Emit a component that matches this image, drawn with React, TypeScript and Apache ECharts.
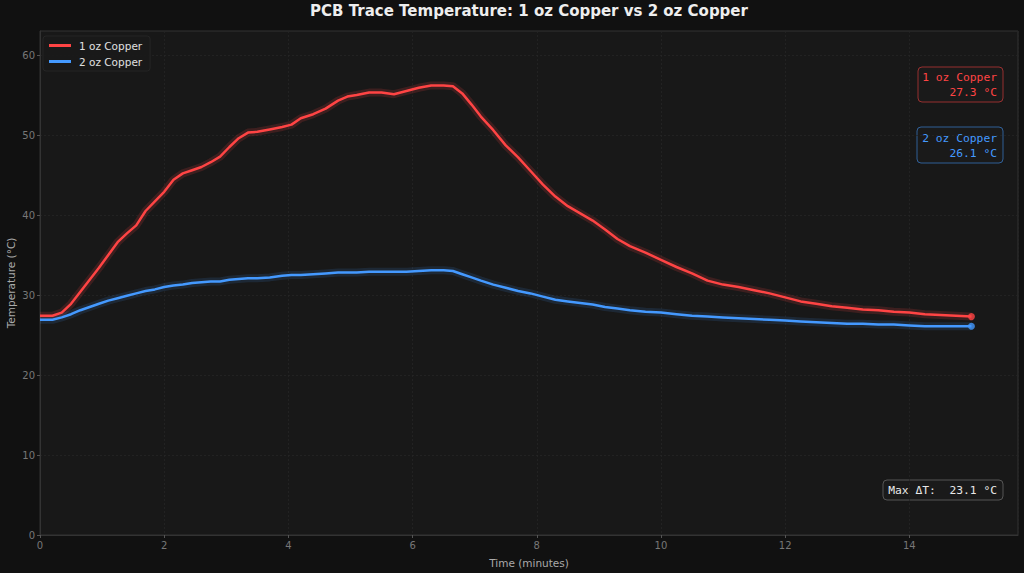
import React, { useEffect, useRef } from "react";
import * as echarts from "echarts";

const TITLE = "PCB Trace Temperature: 1 oz Copper vs 2 oz Copper";
const X_NAME = "Time (minutes)";
const Y_NAME = "Temperature (°C)";
const NAME_1OZ = "1 oz Copper";
const NAME_2OZ = "2 oz Copper";

const times = [
  0, 0.2, 0.35, 0.5, 0.65, 0.8, 0.95, 1.1, 1.25, 1.4, 1.55, 1.7, 1.85, 2.0,
  2.15, 2.3, 2.45, 2.6, 2.75, 2.9, 3.05, 3.2, 3.35, 3.5, 3.7, 3.9, 4.05, 4.2,
  4.4, 4.6, 4.8, 4.95, 5.1, 5.3, 5.5, 5.7, 5.9, 6.1, 6.3, 6.5, 6.65, 6.8, 6.95,
  7.1, 7.3, 7.5, 7.7, 7.9, 8.1, 8.3, 8.5, 8.7, 8.9, 9.1, 9.3, 9.5, 9.75, 10.0,
  10.25, 10.5, 10.75, 11.0, 11.25, 11.5, 11.75, 12.0, 12.25, 12.5, 12.75, 13.0,
  13.25, 13.5, 13.75, 14.0, 14.25, 14.5, 14.75, 15.0,
];

const temp1oz = [
  27.4, 27.4, 27.8, 28.9, 30.4, 31.9, 33.4, 35.0, 36.6, 37.7, 38.7, 40.5, 41.7,
  42.9, 44.4, 45.2, 45.6, 46.0, 46.6, 47.3, 48.5, 49.6, 50.3, 50.4, 50.7, 51.0,
  51.3, 52.1, 52.6, 53.3, 54.3, 54.8, 55.0, 55.3, 55.3, 55.1, 55.5, 55.9, 56.2,
  56.2, 56.1, 55.2, 53.8, 52.3, 50.6, 48.7, 47.2, 45.5, 43.8, 42.3, 41.1, 40.2,
  39.3, 38.2, 37.0, 36.1, 35.3, 34.4, 33.5, 32.7, 31.8, 31.3, 31.0, 30.6, 30.2,
  29.7, 29.2, 28.9, 28.6, 28.4, 28.2, 28.1, 27.9, 27.8, 27.6, 27.5, 27.4, 27.3,
];

const temp2oz = [
  26.9, 26.9, 27.2, 27.6, 28.1, 28.5, 28.9, 29.3, 29.6, 29.9, 30.2, 30.5, 30.7,
  31.0, 31.2, 31.3, 31.5, 31.6, 31.7, 31.7, 31.9, 32.0, 32.1, 32.1, 32.2, 32.4,
  32.5, 32.5, 32.6, 32.7, 32.8, 32.8, 32.8, 32.9, 32.9, 32.9, 32.9, 33.0, 33.1,
  33.1, 33.0, 32.6, 32.2, 31.8, 31.3, 30.9, 30.5, 30.2, 29.8, 29.4, 29.2, 29.0,
  28.8, 28.5, 28.3, 28.1, 27.9, 27.8, 27.6, 27.4, 27.3, 27.2, 27.1, 27.0, 26.9,
  26.8, 26.7, 26.6, 26.5, 26.4, 26.4, 26.3, 26.3, 26.2, 26.1, 26.1, 26.1, 26.1,
];

const X_MIN = 0;
const X_MAX = 15.75;
const X_STEP = 2;
const Y_MIN = 0;
const Y_MAX = 63;
const Y_STEP = 10;

const RED = "#ff4444";
const BLUE = "#4499ff";
const MONO = "'DejaVu Sans Mono', 'Liberation Mono', monospace";
const SANS = "'DejaVu Sans', 'Noto Sans', sans-serif";

export default function App() {
  const ref = useRef<HTMLDivElement | null>(null);

  useEffect(() => {
    document.body.style.margin = "0";
    document.body.style.background = "#111111";
    if (!ref.current) return;
    const chart = echarts.init(ref.current, undefined, { renderer: "svg" });

    const d1 = times.map((t, i) => [t, temp1oz[i]]);
    const d2 = times.map((t, i) => [t, temp2oz[i]]);
    const last = times.length - 1;
    const final1 = temp1oz[last];
    const final2 = temp2oz[last];
    let maxDelta = 0;
    temp1oz.forEach((v, i) => {
      const d = v - temp2oz[i];
      if (d > maxDelta) maxDelta = d;
    });

    const boxText = (
      x: number,
      y: number,
      w: number,
      h: number,
      text: string,
      color: string,
      border: string
    ) => ({
      type: "group",
      x,
      y,
      children: [
        {
          type: "rect",
          shape: { x: 0, y: 0, width: w, height: h, r: 4 },
          style: { fill: "#1a1a1a", stroke: border, lineWidth: 1 },
        },
        {
          type: "text",
          x: w - 6,
          y: h / 2 + 0.5,
          style: {
            text,
            fill: color,
            font: `11.3px ${MONO}`,
            align: "right",
            verticalAlign: "middle",
            lineHeight: 15,
          },
        },
      ],
    });

    const option: any = {
      animation: false,
      backgroundColor: "#111111",
      textStyle: { fontFamily: SANS },
      grid: {
        left: 40,
        right: 6,
        top: 31,
        bottom: 38,
        outerBoundsMode: "none",
        containLabel: false,
        show: true,
        backgroundColor: "#181818",
        borderColor: "#333333",
        borderWidth: 1,
      },
      legend: {
        orient: "vertical",
        left: 43,
        top: 36,
        padding: [4, 8, 4, 6],
        itemGap: 5,
        itemWidth: 22,
        itemHeight: 3,
        icon: "rect",
        backgroundColor: "rgba(26,26,26,0.9)",
        borderColor: "#252525",
        borderWidth: 1,
        borderRadius: 3,
        textStyle: {
          color: "#e0e0e0",
          fontSize: 10.5,
          fontFamily: SANS,
          padding: [0, 0, 0, 3],
        },
        data: [
          { name: NAME_1OZ, itemStyle: { color: RED } },
          { name: NAME_2OZ, itemStyle: { color: BLUE } },
        ],
      },
      xAxis: {
        type: "value",
        min: X_MIN,
        max: X_MAX,
        interval: X_STEP,
        name: X_NAME,
        nameLocation: "middle",
        nameGap: 22,
        nameMoveOverlap: false,
        nameTextStyle: { color: "#aaaaaa", fontSize: 10.5, fontFamily: SANS },
        axisLine: { show: true, lineStyle: { color: "#333333" } },
        axisTick: { show: true, length: 3, lineStyle: { color: "#555555" } },
        axisLabel: {
          color: "#777777",
          fontSize: 10,
          margin: 5,
          showMaxLabel: false,
          fontFamily: SANS,
        },
        splitLine: {
          show: true,
          lineStyle: { color: "#262626", type: [2, 2], width: 0.8 },
        },
      },
      yAxis: {
        type: "value",
        min: Y_MIN,
        max: Y_MAX,
        interval: Y_STEP,
        name: Y_NAME,
        nameLocation: "middle",
        nameGap: 24,
        nameMoveOverlap: false,
        nameTextStyle: { color: "#aaaaaa", fontSize: 10.5, fontFamily: SANS },
        axisLine: { show: true, lineStyle: { color: "#333333" } },
        axisTick: { show: true, length: 3, lineStyle: { color: "#555555" } },
        axisLabel: {
          color: "#777777",
          fontSize: 10,
          margin: 5,
          showMaxLabel: false,
          fontFamily: SANS,
        },
        splitLine: {
          show: true,
          lineStyle: { color: "#262626", type: [2, 2], width: 0.8 },
        },
      },
      series: [
        {
          name: NAME_1OZ + " glow",
          type: "line",
          data: d1,
          showSymbol: false,
          silent: true,
          lineStyle: { color: RED, width: 8, opacity: 0.16 },
          z: 1,
        },
        {
          name: NAME_2OZ + " glow",
          type: "line",
          data: d2,
          showSymbol: false,
          silent: true,
          lineStyle: { color: BLUE, width: 8, opacity: 0.13 },
          z: 1,
        },
        {
          name: NAME_1OZ,
          type: "line",
          data: d1,
          showSymbol: false,
          itemStyle: { color: RED },
          lineStyle: { color: RED, width: 2.5 },
          z: 3,
        },
        {
          name: NAME_2OZ,
          type: "line",
          data: d2,
          showSymbol: false,
          itemStyle: { color: BLUE },
          lineStyle: { color: BLUE, width: 2.5 },
          z: 3,
        },
        {
          name: NAME_1OZ + " end",
          type: "scatter",
          data: [d1[last]],
          symbolSize: 7,
          itemStyle: { color: RED },
          z: 4,
        },
        {
          name: NAME_2OZ + " end",
          type: "scatter",
          data: [d2[last]],
          symbolSize: 7,
          itemStyle: { color: BLUE },
          z: 4,
        },
      ],
      graphic: [
        {
          type: "text",
          x: 529,
          y: 11,
          style: {
            text: TITLE,
            fill: "#eeeeee",
            font: `bold 15px ${SANS}`,
            align: "center",
            verticalAlign: "middle",
          },
        },
        boxText(
          918,
          67,
          85,
          35,
          `${NAME_1OZ}\n${final1.toFixed(1)} °C`,
          RED,
          "rgba(255,68,68,0.55)"
        ),
        boxText(
          917,
          127,
          86,
          36,
          `${NAME_2OZ}\n${final2.toFixed(1)} °C`,
          BLUE,
          "rgba(68,153,255,0.55)"
        ),
        boxText(
          883,
          480,
          120,
          20,
          `Max ΔT:  ${maxDelta.toFixed(1)} °C`,
          "#e8e8e8",
          "#555555"
        ),
      ],
    };

    chart.setOption(option);
    return () => chart.dispose();
  }, []);

  return (
    <div
      ref={ref}
      style={{ position: "fixed", left: 0, top: 0, width: 1024, height: 573 }}
    />
  );
}
